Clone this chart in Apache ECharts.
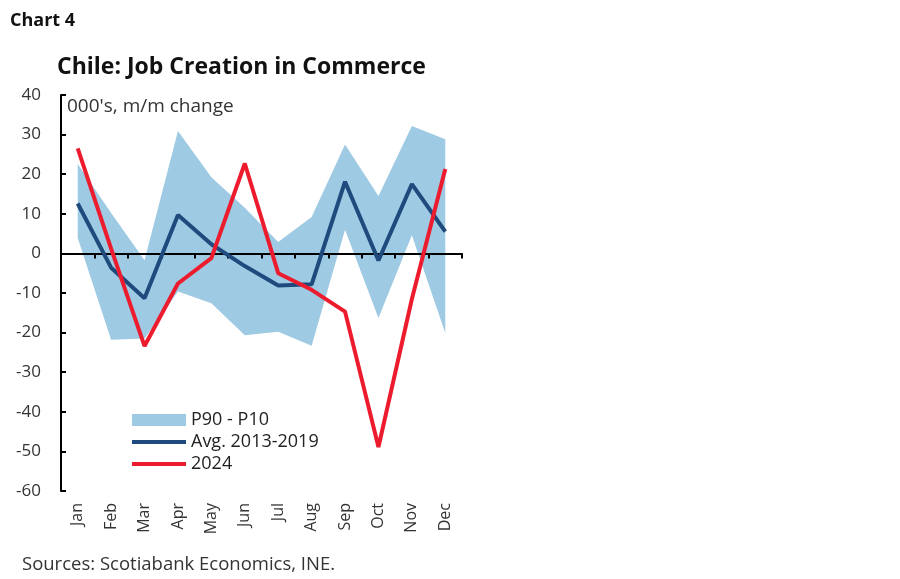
<!DOCTYPE html>
<html>
<head>
<meta charset="utf-8">
<script src="https://cdn.jsdelivr.net/npm/echarts@6/dist/echarts.min.js"></script>
<style>
	html, body { margin: 0; padding: 0; background: #fff; }
	#chart { width: 900px; height: 579px; }
</style>
</head>
<body>
<div id="chart"></div>
<script>
// months along the bottom
var months = ['Jan', 'Feb', 'Mar', 'Apr', 'May', 'Jun', 'Jul', 'Aug', 'Sep', 'Oct', 'Nov', 'Dec'];

// P90 and P10 edges of the shaded band (000's, m/m change)
var p90 = [22.6, 10.2, -1.7, 30.9, 19.2, 11.5, 2.9, 9.2, 27.5, 14.5, 32.2, 28.8];
var p10 = [3.9, -21.8, -21.5, -9.6, -12.6, -20.7, -19.8, -23.3, 6.0, -16.3, 4.6, -20.1];

// average 2013-2019
var avg = [12.6, -3.6, -11.3, 9.7, 2.3, -3.2, -8.1, -7.8, 18.1, -1.8, 17.5, 5.5];

// 2024
var y2024 = [26.5, 1.2, -23.4, -7.6, -1.2, 22.7, -5.0, -9.2, -14.7, -48.9, -11.5, 21.3];

var yTicks = { min: -60, max: 40, step: 10 };

var chart = echarts.init(document.getElementById('chart'));

// band thickness stacked on top of the P10 edge
var bandWidth = [];
for (var i = 0; i < months.length; i++) {
	bandWidth.push(+(p90[i] - p10[i]).toFixed(2));
}

var font = '"Open Sans", sans-serif';

option = {
	animation: false,
	backgroundColor: '#fff',
	textStyle: { fontFamily: font },
	title: [{
		text: 'Chart 4',
		left: 5, top: 7,
		textStyle: { fontFamily: font, fontSize: 18, fontWeight: 'bold', color: '#111' }
	}, {
		text: 'Chile: Job Creation in Commerce',
		left: 52, top: 51,
		textStyle: { fontFamily: font, fontSize: 23, fontWeight: 'bold', color: '#111' }
	}],
	grid: { left: 61, top: 95, width: 401, height: 396 },
	legend: {
		orient: 'vertical',
		left: 125, top: 406,
		itemWidth: 54, itemHeight: 12, itemGap: 4,
		textStyle: { fontFamily: font, fontSize: 18, color: '#222' },
		data: [
			{ name: 'P90 - P10', icon: 'rect' },
			// hide the dot that line series put in their legend icon
			{ name: 'Avg. 2013-2019', itemStyle: { opacity: 0 }, lineStyle: { width: 4 } },
			{ name: '2024', itemStyle: { opacity: 0 }, lineStyle: { width: 4 } }
		]
	},
	xAxis: [{
		type: 'category',
		data: months,
		position: 'bottom',
		axisLine: { show: false, onZero: false },
		axisTick: { show: false },
		axisLabel: { rotate: 90, margin: 12, fontSize: 16, color: '#333', fontFamily: font }
	}, {
		type: 'category',
		data: months,
		position: 'top',
		z: 2,
		axisLine: { onZero: true, lineStyle: { color: '#000', width: 2 } },
		axisTick: { show: true, inside: true, length: 5, lineStyle: { color: '#000', width: 2 } },
		axisLabel: { show: false }
	}],
	yAxis: {
		type: 'value',
		min: yTicks.min, max: yTicks.max, interval: yTicks.step,
		axisLine: { show: true, onZero: false, lineStyle: { color: '#000', width: 2 } },
		axisTick: { show: true, inside: true, length: 5, lineStyle: { color: '#000', width: 2 } },
		axisLabel: { margin: 20, fontSize: 17, color: '#333', fontFamily: font },
		splitLine: { show: false }
	},
	graphic: [{
		type: 'text',
		left: 67, top: 97,
		style: { text: "000's, m/m change", font: '19px ' + font, fill: '#333' }
	}, {
		type: 'text',
		left: 22, top: 555,
		style: { text: 'Sources: Scotiabank Economics, INE.', font: '18.5px ' + font, fill: '#333' }
	}],
	series: [{
		name: 'p10',
		type: 'line',
		stack: 'band',
		stackStrategy: 'all',
		data: p10,
		symbol: 'none',
		lineStyle: { width: 0, opacity: 0 },
		z: 1,
		silent: true
	}, {
		name: 'P90 - P10',
		type: 'line',
		stack: 'band',
		stackStrategy: 'all',
		data: bandWidth,
		symbol: 'none',
		itemStyle: { color: '#9ecae3' },
		lineStyle: { width: 0, opacity: 0 },
		areaStyle: { color: '#9ecae3', opacity: 1 },
		z: 1
	}, {
		name: 'Avg. 2013-2019',
		type: 'line',
		data: avg,
		symbol: 'none',
		itemStyle: { color: '#1f4a7d' },
		lineStyle: { color: '#1f4a7d', width: 4 },
		z: 3
	}, {
		name: '2024',
		type: 'line',
		data: y2024,
		symbol: 'none',
		itemStyle: { color: '#ec1c2e' },
		lineStyle: { color: '#ec1c2e', width: 4 },
		z: 4
	}]
};

chart.setOption(option);
</script>
</body>
</html>
